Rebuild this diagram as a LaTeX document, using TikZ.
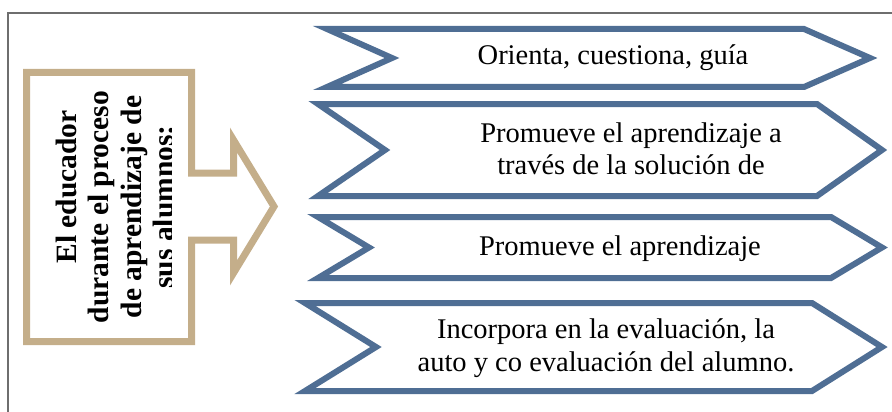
\documentclass[tikz,border=0pt]{standalone}
\usepackage{fontspec}
\setmainfont{Liberation Serif}
\definecolor{azul}{RGB}{79,110,148}
\definecolor{beige}{RGB}{196,174,138}
\definecolor{marco}{RGB}{110,110,110}
\tikzset{
  chev/.style={draw=azul,line width=6pt,fill=white},
  flecha/.style={draw=beige,line width=7pt,fill=white},
  txt/.style={align=center,font=\fontsize{28.5}{32.5}\selectfont},
}
\begin{document}
\begin{tikzpicture}[x=1pt,y=-1pt]
\useasboundingbox (0,0) rectangle (892,412);

% marco
\path[draw=marco,line width=2.5pt] (8,420) -- (8,13) -- (900,13);

% flecha
\path[flecha] (26.5,72.5) -- (191.5,72.5) -- (191.5,173) -- (233.5,173) -- (233.5,140)
  -- (274,206.5) -- (233.5,273) -- (233.5,240) -- (191.5,240) -- (191.5,341.5)
  -- (26.5,341.5) -- cycle;
\begin{scope}
\clip (30,76) rectangle (171,338);
\node[rotate=90,align=center,font=\bfseries\fontsize{29.5}{32.5}\selectfont] (educador) at (115,207)
  {\hspace*{40pt}El educador\\durante el proceso\\de aprendizaje de\\sus alumnos:};
\end{scope}

% chevrones
\path[chev] (327,29) -- (804,29) -- (870,58) -- (804,87) -- (327,87) -- (392,58) -- cycle;
\path[chev] (318,104) -- (817,104) -- (882,150) -- (817,196) -- (318,196) -- (385,150) -- cycle;
\path[chev] (318,217) -- (831,217) -- (882,247.5) -- (831,278) -- (318,278) -- (369,247.5) -- cycle;
\path[chev] (305,303) -- (812,303) -- (882,347) -- (812,391) -- (305,391) -- (376,347) -- cycle;

\node[txt] (orienta) at (613,58) {Orienta, cuestiona, guía};
\node[txt] (solucion) at (631,149) {Promueve el aprendizaje a\\través de la solución de};
\node[txt] (promueve) at (620,249) {Promueve el aprendizaje};
\node[txt] (incorpora) at (606,348) {Incorpora en la evaluación, la\\auto y co evaluación del alumno.};
\end{tikzpicture}
\end{document}
